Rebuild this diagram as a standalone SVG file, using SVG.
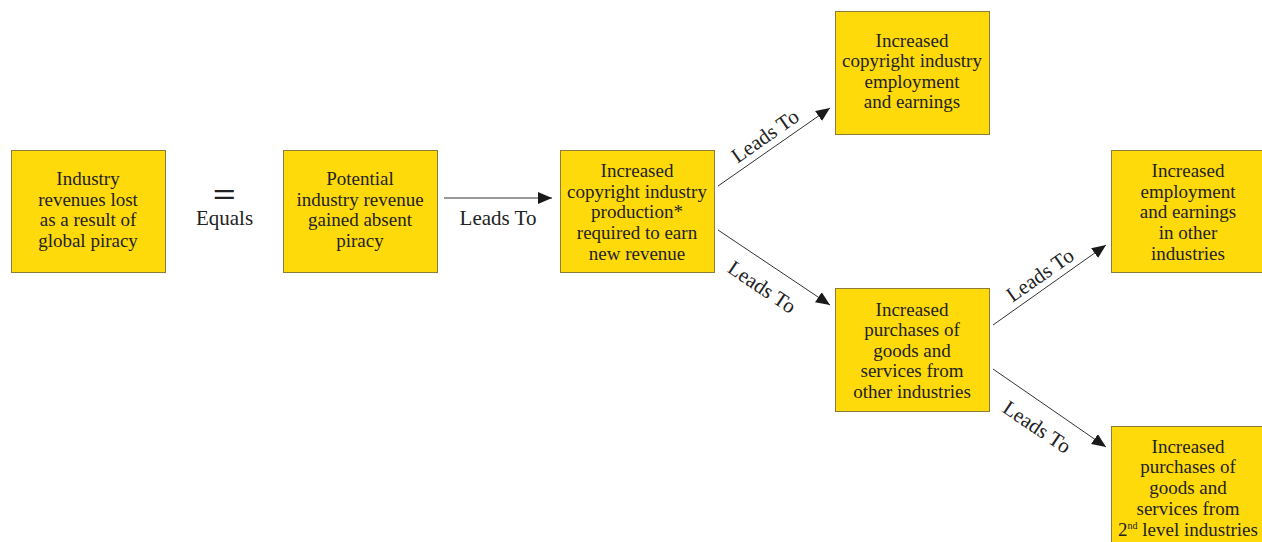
<svg xmlns="http://www.w3.org/2000/svg" width="1262" height="542" viewBox="0 0 1262 542">
<style>
.box{fill:#FFDA0B;stroke:#8C7B3A;stroke-width:1}
.t{font-family:"Liberation Serif","Times New Roman",serif;font-size:19px;fill:#222;text-anchor:middle}
.lbl{font-family:"Liberation Serif","Times New Roman",serif;font-size:21px;fill:#222;text-anchor:middle}
.edge{stroke:#333;stroke-width:1;fill:none;marker-end:url(#ah)}
</style>
<defs>
<marker id="ah" markerUnits="userSpaceOnUse" markerWidth="16" markerHeight="14" refX="14" refY="6" orient="auto">
<path d="M0,0 L14,6 L0,12 Z" fill="#1a1a1a"/>
</marker>
</defs>
<rect width="1262" height="542" fill="#fff"/>
<g id="connectors">
<line class="edge" x1="444" y1="198" x2="552" y2="198"/>
<line class="edge" x1="718" y1="186" x2="830" y2="108"/>
<line class="edge" x1="718" y1="230" x2="830" y2="305"/>
<line class="edge" x1="993" y1="325" x2="1106" y2="245"/>
<line class="edge" x1="993" y1="369" x2="1106" y2="447"/>
<text class="lbl" x="498" y="225">Leads To</text>
<text class="lbl" transform="translate(765,136) rotate(-35)" y="7">Leads To</text>
<text class="lbl" transform="translate(762,287) rotate(34)" y="7">Leads To</text>
<text class="lbl" transform="translate(1040,275) rotate(-35)" y="7">Leads To</text>
<text class="lbl" transform="translate(1037,427) rotate(34)" y="7">Leads To</text>
</g>
<g id="equals">
<text class="lbl" transform="translate(224.5,206) scale(1.2,1)" style="font-size:34px;font-weight:bold">=</text>
<text class="lbl" x="224.5" y="225">Equals</text>
</g>
<g id="n1">
<rect class="box" x="11.5" y="150.5" width="154" height="122"/>
<text class="t" x="88" y="185">Industry</text>
<text class="t" x="88" y="206">revenues lost</text>
<text class="t" x="88" y="226">as a result of</text>
<text class="t" x="88" y="247">global piracy</text>
</g>
<g id="n2">
<rect class="box" x="283.5" y="150.5" width="154" height="122"/>
<text class="t" x="360" y="185">Potential</text>
<text class="t" x="360" y="206">industry revenue</text>
<text class="t" x="360" y="226">gained absent</text>
<text class="t" x="360" y="247">piracy</text>
</g>
<g id="n3">
<rect class="box" x="560.5" y="150.5" width="154" height="122"/>
<text class="t" x="637" y="177">Increased</text>
<text class="t" x="637" y="198">copyright industry</text>
<text class="t" x="637" y="218">production*</text>
<text class="t" x="637" y="239">required to earn</text>
<text class="t" x="637" y="260">new revenue</text>
</g>
<g id="n4">
<rect class="box" x="835.5" y="11.5" width="154" height="123"/>
<text class="t" x="912" y="47">Increased</text>
<text class="t" x="912" y="67">copyright industry</text>
<text class="t" x="912" y="88">employment</text>
<text class="t" x="912" y="108">and earnings</text>
</g>
<g id="n5">
<rect class="box" x="835.5" y="288.5" width="154" height="123"/>
<text class="t" x="912" y="316">Increased</text>
<text class="t" x="912" y="336">purchases of</text>
<text class="t" x="912" y="357">goods and</text>
<text class="t" x="912" y="377">services from</text>
<text class="t" x="912" y="398">other industries</text>
</g>
<g id="n6">
<rect class="box" x="1111.5" y="150.5" width="154" height="122"/>
<text class="t" x="1188" y="177">Increased</text>
<text class="t" x="1188" y="198">employment</text>
<text class="t" x="1188" y="218">and earnings</text>
<text class="t" x="1188" y="239">in other</text>
<text class="t" x="1188" y="260">industries</text>
</g>
<g id="n7">
<rect class="box" x="1111.5" y="426.5" width="154" height="123"/>
<text class="t" x="1188" y="453">Increased</text>
<text class="t" x="1188" y="473">purchases of</text>
<text class="t" x="1188" y="494">goods and</text>
<text class="t" x="1188" y="515">services from</text>
<text class="t" x="1188" y="536">2<tspan dy="-7" style="font-size:10px">nd</tspan><tspan dy="7"> level industries</tspan></text>
</g>
</svg>
